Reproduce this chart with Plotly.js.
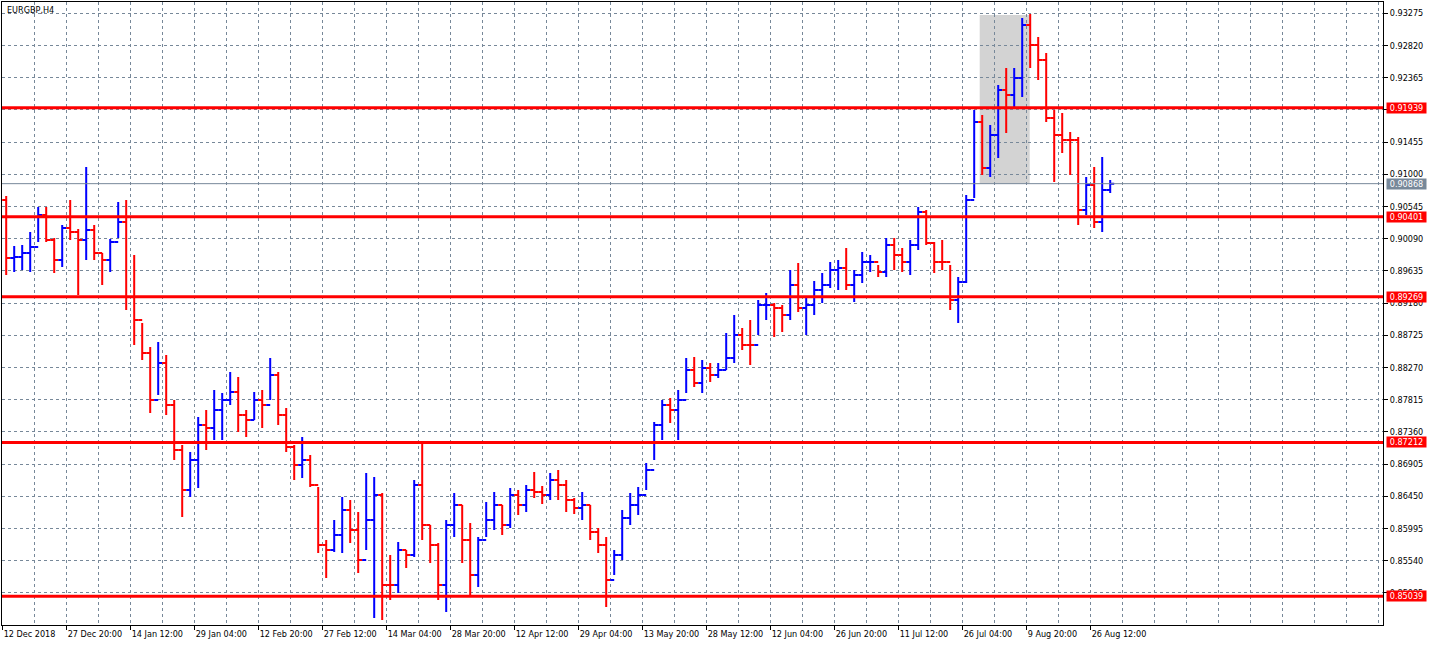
<!DOCTYPE html>
<html>
<head>
<meta charset="utf-8">
<script src="https://cdn.plot.ly/plotly-3.0.1.min.js"></script>
<style>
  html, body { margin: 0; padding: 0; background: #ffffff; }
  #chart { width: 1436px; height: 646px; }
</style>
</head>
<body>
<div id="chart"></div>
<script>
// ---- DATA (EURGBP H4; one entry per block of 8 H4 bars) ----
const symbolTitle = "EURGBP,H4";
const barsPerGroup = 8;
const firstOpen = 0.90637;

const highs = [
  0.90694, 0.89987, 0.90001, 0.90185, 0.90538, 0.90538, 0.90100, 0.90284, 0.90637, 0.90227,
  0.91103, 0.90284, 0.89888, 0.90086, 0.90609, 0.90637, 0.89860, 0.88899, 0.88560, 0.88631,
  0.88447, 0.87811, 0.87175, 0.87076, 0.87571, 0.87670, 0.87952, 0.87910, 0.88207, 0.88136,
  0.87670, 0.87924, 0.87952, 0.88404, 0.88207, 0.87698, 0.87175, 0.87288, 0.87034, 0.86582,
  0.85833, 0.86115, 0.86440, 0.86398, 0.86228, 0.86780, 0.86723, 0.86497, 0.85621, 0.85805,
  0.85692, 0.86681, 0.87203, 0.86045, 0.85790, 0.86115, 0.86497, 0.86327, 0.86073, 0.85875,
  0.86370, 0.86511, 0.86327, 0.86568, 0.86539, 0.86610, 0.86794, 0.86596, 0.86780, 0.86822,
  0.86681, 0.86426, 0.86511, 0.86327, 0.86002, 0.85875, 0.85692, 0.86257, 0.86497, 0.86582,
  0.86921, 0.87500, 0.87811, 0.87839, 0.87952, 0.88404, 0.88419, 0.88376, 0.88334, 0.88334,
  0.88758, 0.89012, 0.88828, 0.88941, 0.89224, 0.89323, 0.89182, 0.89153, 0.89648, 0.89747,
  0.89252, 0.89492, 0.89606, 0.89761, 0.89789, 0.89959, 0.89648, 0.89902, 0.89860, 0.89719,
  0.90100, 0.90100, 0.89959, 0.90072, 0.90538, 0.90496, 0.90044, 0.90072, 0.89719, 0.89549,
  0.90708, 0.91909, 0.91838, 0.91697, 0.92262, 0.92502, 0.92502, 0.93209, 0.93265, 0.92940,
  0.92714, 0.91909, 0.91866, 0.91598, 0.91527, 0.90962, 0.91103, 0.91245, 0.90920
];
const lows = [
  0.89577, 0.89620, 0.89648, 0.89620, 0.90044, 0.90044, 0.89606, 0.89690, 0.90072, 0.89295,
  0.89789, 0.89789, 0.89436, 0.89620, 0.90100, 0.89083, 0.88588, 0.88376, 0.87627, 0.87882,
  0.87599, 0.86963, 0.86158, 0.86440, 0.86568, 0.87105, 0.87246, 0.87246, 0.87740, 0.87359,
  0.87288, 0.87528, 0.87415, 0.87811, 0.87458, 0.87076, 0.86681, 0.86709, 0.86582, 0.85649,
  0.85296, 0.85663, 0.85649, 0.85790, 0.85367, 0.85692, 0.84731, 0.84702, 0.84985, 0.85084,
  0.85437, 0.85593, 0.85833, 0.85508, 0.84985, 0.84815, 0.85875, 0.85508, 0.85056, 0.85169,
  0.85875, 0.85974, 0.85903, 0.86002, 0.86186, 0.86228, 0.86426, 0.86342, 0.86398, 0.86398,
  0.86228, 0.86200, 0.86115, 0.85833, 0.85649, 0.84886, 0.85338, 0.85550, 0.86045, 0.86186,
  0.86539, 0.86963, 0.87246, 0.87486, 0.87246, 0.87910, 0.87995, 0.87910, 0.88065, 0.88122,
  0.88235, 0.88334, 0.88518, 0.88306, 0.88729, 0.88941, 0.88701, 0.88772, 0.88941, 0.89054,
  0.88729, 0.89012, 0.89182, 0.89394, 0.89365, 0.89365, 0.89196, 0.89464, 0.89620, 0.89549,
  0.89549, 0.89648, 0.89620, 0.89577, 0.89931, 0.90001, 0.89606, 0.89648, 0.89083, 0.88899,
  0.89464, 0.90665, 0.90990, 0.90962, 0.91230, 0.91584, 0.91937, 0.92092, 0.92502, 0.92333,
  0.91739, 0.90891, 0.91301, 0.90990, 0.90284, 0.90425, 0.90241, 0.90185, 0.90736
];
const closes = [
  0.89817, 0.89832, 0.89888, 0.89973, 0.90425, 0.90072, 0.89789, 0.90241, 0.90185, 0.90072,
  0.90213, 0.89888, 0.89789, 0.90044, 0.90326, 0.89266, 0.88941, 0.88475, 0.87811, 0.88334,
  0.87740, 0.87105, 0.86539, 0.86963, 0.87458, 0.87415, 0.87670, 0.87811, 0.87924, 0.87599,
  0.87528, 0.87811, 0.87740, 0.88164, 0.87599, 0.87147, 0.86893, 0.86963, 0.86610, 0.85762,
  0.85692, 0.85903, 0.86257, 0.85974, 0.85550, 0.86115, 0.86469, 0.85197, 0.85197, 0.85692,
  0.85621, 0.86610, 0.86045, 0.85762, 0.85197, 0.86045, 0.86327, 0.85833, 0.85338, 0.85833,
  0.86115, 0.86327, 0.86045, 0.86469, 0.86327, 0.86539, 0.86511, 0.86469, 0.86681, 0.86610,
  0.86398, 0.86285, 0.86327, 0.85946, 0.85762, 0.85268, 0.85621, 0.86144, 0.86327, 0.86469,
  0.86822, 0.87458, 0.87740, 0.87670, 0.87811, 0.88235, 0.88051, 0.88263, 0.88164, 0.88235,
  0.88404, 0.88729, 0.88588, 0.88588, 0.89153, 0.89153, 0.89111, 0.89012, 0.89436, 0.89111,
  0.89153, 0.89365, 0.89436, 0.89648, 0.89676, 0.89436, 0.89577, 0.89761, 0.89761, 0.89620,
  0.90001, 0.89860, 0.89761, 0.90001, 0.90467, 0.90029, 0.89761, 0.89761, 0.89224, 0.89478,
  0.90637, 0.91739, 0.91089, 0.91555, 0.92191, 0.92121, 0.92361, 0.93110, 0.92827, 0.92615,
  0.91796, 0.91555, 0.91485, 0.91485, 0.90496, 0.90849, 0.90326, 0.90778, 0.90868
];

// x-axis labels, one every 64 H4 bars
const timeLabels = [
  "12 Dec 2018", "27 Dec 20:00", "14 Jan 12:00", "29 Jan 04:00", "12 Feb 20:00",
  "27 Feb 12:00", "14 Mar 04:00", "28 Mar 20:00", "12 Apr 12:00", "29 Apr 04:00",
  "13 May 20:00", "28 May 12:00", "12 Jun 04:00", "26 Jun 20:00", "11 Jul 12:00",
  "26 Jul 04:00", "9 Aug 20:00", "26 Aug 12:00"
];
const barsPerLabel = 64;

// price scale labels
const priceTicks = [
  0.93275, 0.92820, 0.92365, 0.91910, 0.91455, 0.91000, 0.90545, 0.90090, 0.89635, 0.89180,
  0.88725, 0.88270, 0.87815, 0.87360, 0.86905, 0.86450, 0.85995, 0.85540, 0.85085
];

// horizontal support / resistance levels and current bid
const levels = [0.91939, 0.90401, 0.89269, 0.87212, 0.85039];
const bidPrice = 0.90868;

// shaded rectangle (bar index range, price range)
const boxBars = [977, 1027];
const boxPrices = [0.90868, 0.93251];

// ---- BUILD ----
const xs = closes.map((_, k) => k * barsPerGroup + 3.5);
const opens = [firstOpen].concat(closes.slice(0, -1));
const tickBars = timeLabels.map((_, i) => i * barsPerLabel);

const GRID = '#778899';
const FONT = '"DejaVu Sans Condensed", "Liberation Sans", Arial, sans-serif';

const trace = {
  type: 'ohlc',
  x: xs, open: opens, high: highs, low: lows, close: closes,
  increasing: { line: { color: '#0000FF', width: 2 } },
  decreasing: { line: { color: '#FF0000', width: 2 } },
  tickwidth: 0.5,
  hoverinfo: 'skip'
};

const shapes = [];
shapes.push({
  type: 'rect', layer: 'below', xref: 'x', yref: 'y',
  x0: boxBars[0], x1: boxBars[1], y0: boxPrices[0], y1: boxPrices[1],
  fillcolor: '#D3D3D3', line: { width: 0 }
});
shapes.push({
  type: 'line', layer: 'above', xref: 'paper', yref: 'y',
  x0: 0, x1: 1, y0: bidPrice, y1: bidPrice,
  line: { color: GRID, width: 1 }
});
levels.forEach(v => shapes.push({
  type: 'line', layer: 'above', xref: 'paper', yref: 'y',
  x0: 0, x1: 1, y0: v, y1: v,
  line: { color: '#FF0000', width: 3 }
}));

const annotations = [];
annotations.push({
  text: symbolTitle, xref: 'paper', yref: 'paper', x: 0, y: 1,
  xanchor: 'left', yanchor: 'top', xshift: 3, yshift: -1, showarrow: false,
  font: { family: FONT, size: 9, color: '#000000' }
});
function priceBox(v, bg) {
  return {
    text: v.toFixed(5), xref: 'paper', yref: 'y', x: 1, y: v,
    xanchor: 'left', yanchor: 'middle', xshift: 3, showarrow: false,
    bgcolor: bg, borderpad: 1, width: 37, height: 8,
    font: { family: FONT, size: 9, color: '#FFFFFF' }
  };
}
levels.forEach(v => annotations.push(priceBox(v, '#FF0000')));
annotations.push(priceBox(bidPrice, GRID));

const layout = {
  width: 1436, height: 646,
  margin: { l: 2, r: 53, t: 2, b: 21, pad: 0 },
  paper_bgcolor: '#FFFFFF', plot_bgcolor: '#FFFFFF',
  showlegend: false,
  font: { family: FONT, size: 9, color: '#000000' },
  xaxis: {
    type: 'linear',
    range: [-0.7, 1380.3],
    tickmode: 'array', tickvals: tickBars, ticktext: timeLabels,
    tickangle: 0,
    ticks: 'outside', ticklen: 4, tickcolor: '#000000', tickwidth: 1,
    ticklabelposition: 'outside right',
    tickfont: { family: FONT, size: 9, color: '#000000' },
    showgrid: true, gridcolor: GRID, griddash: '3px,3px', gridwidth: 1,
    minor: { tickmode: 'linear', tick0: 0, dtick: 32, showgrid: true,
             gridcolor: GRID, griddash: '3px,3px', gridwidth: 1, ticks: '' },
    showline: true, linecolor: '#000000', linewidth: 1, mirror: true,
    zeroline: false, fixedrange: true,
    rangeslider: { visible: false }
  },
  yaxis: {
    side: 'right',
    range: [0.84632, 0.93435],
    tickmode: 'array', tickvals: priceTicks, ticktext: priceTicks.map(v => v.toFixed(5)),
    ticks: 'outside', ticklen: 4, tickcolor: '#000000', tickwidth: 1,
    tickfont: { family: FONT, size: 9, color: '#000000' },
    showgrid: true, gridcolor: GRID, griddash: '3px,3px', gridwidth: 1,
    showline: true, linecolor: '#000000', linewidth: 1, mirror: true,
    zeroline: false, fixedrange: true
  },
  shapes: shapes,
  annotations: annotations
};

Plotly.newPlot('chart', [trace], layout, { staticPlot: true, displayModeBar: false });
</script>
</body>
</html>
